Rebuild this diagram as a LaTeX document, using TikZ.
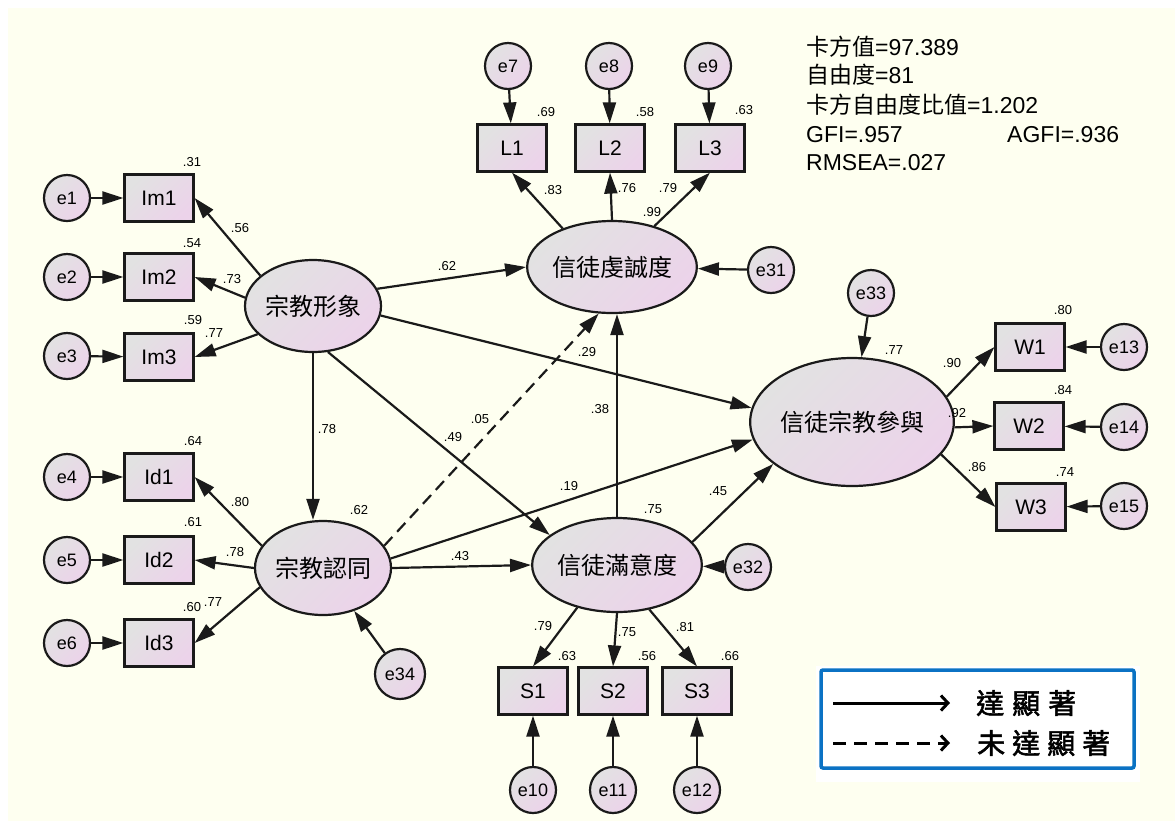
\documentclass[tikz,border=0pt]{standalone}
\usepackage{fontspec}
\setmainfont{Liberation Sans}
\newfontfamily\cjk[AutoFakeBold=2]{Noto Sans CJK TC}
\usetikzlibrary{arrows.meta,shapes.geometric}
\definecolor{paperc}{HTML}{FEFFF0}
\definecolor{shadel}{HTML}{E2E2E2}
\definecolor{shader}{HTML}{ECD3EA}
\definecolor{edgec}{HTML}{1A1A1A}
\definecolor{legendc}{HTML}{0B72C4}
\newcommand{\pxsize}[1]{\fontsize{#1}{#1}\selectfont}

\begin{document}
\begin{tikzpicture}[
  x=1pt, y=-1pt,
  shadefill/.style={top color=shadel, bottom color=shader, shading angle=45},
  obs/.style={draw=edgec, line width=2.2pt, shadefill, minimum width=69pt,
    minimum height=47pt, inner sep=0pt, font=\pxsize{21}},
  lat/.style={ellipse, draw=edgec, line width=2.2pt, shadefill, inner sep=0pt,
    font=\cjk\pxsize{24}},
  err/.style={circle, draw=edgec, line width=2.2pt, shadefill, minimum size=46pt,
    inner sep=0pt, font=\pxsize{18}},
  coef/.style={font=\pxsize{13}, inner sep=0pt},
  stat/.style={font=\pxsize{23}, inner sep=0pt, anchor=base west},
  arr/.style={-{Triangle[length=21pt,width=13pt]}, line width=2.2pt, draw=edgec},
  nsarr/.style={arr, dash pattern=on 12pt off 7pt},
  legarr/.style={-{Straight Barb[length=7pt,width=15pt,line width=3pt]}, line width=3pt},
  legtxt/.style={font=\cjk\bfseries\pxsize{28}, inner sep=0pt, anchor=west}
]
  % page
  \fill[white] (0,0) rectangle (1175,823);
  \fill[paperc] (8,8) rectangle (1175,821);
  \useasboundingbox (0,0) rectangle (1175,823);

  % latent variables
  \node[lat, minimum width=136pt, minimum height=92pt] (img)  at (313,306) {宗教形象};
  \node[lat, minimum width=136pt, minimum height=94pt] (iden) at (323,568) {宗教認同};
  \node[lat, minimum width=154pt, minimum height=92pt] (loy)  at (612,267) {信徒虔誠度};
  \node[lat, minimum width=140pt, minimum height=94pt] (sat)  at (617,565) {信徒滿意度};
  \node[lat, minimum width=170pt, minimum height=128pt] (part) at (852,422) {信徒宗教參與};

  % indicators
  \node[obs] (Im1) at (159,198) {Im1};
  \node[obs] (Im2) at (159,277) {Im2};
  \node[obs] (Im3) at (159,357) {Im3};
  \node[obs] (Id1) at (159,477) {Id1};
  \node[obs] (Id2) at (159,560) {Id2};
  \node[obs] (Id3) at (159,643) {Id3};
  \node[obs] (L1) at (512,148) {L1};
  \node[obs] (L2) at (610,148) {L2};
  \node[obs] (L3) at (710,148) {L3};
  \node[obs] (S1) at (533,691) {S1};
  \node[obs] (S2) at (613,691) {S2};
  \node[obs] (S3) at (697,691) {S3};
  \node[obs] (W1) at (1030,347) {W1};
  \node[obs] (W2) at (1029,426) {W2};
  \node[obs] (W3) at (1031,507) {W3};

  % error terms
  \node[err] (e1) at (67,198) {e1};
  \node[err] (e2) at (67,277) {e2};
  \node[err] (e3) at (67,356) {e3};
  \node[err] (e4) at (67,477) {e4};
  \node[err] (e5) at (67,560) {e5};
  \node[err] (e6) at (67,643) {e6};
  \node[err] (e7) at (508,66) {e7};
  \node[err] (e8) at (609,66) {e8};
  \node[err] (e9) at (708,66) {e9};
  \node[err] (e10) at (533,790) {e10};
  \node[err] (e11) at (613,790) {e11};
  \node[err] (e12) at (697,790) {e12};
  \node[err] (e13) at (1124,347) {e13};
  \node[err] (e14) at (1124,427) {e14};
  \node[err] (e15) at (1124,506) {e15};
  \node[err] (e31) at (771,270) {e31};
  \node[err] (e32) at (748,567) {e32};
  \node[err] (e33) at (871,293) {e33};
  \node[err, minimum size=50pt] (e34) at (400,674) {e34};

  % measurement paths
  \draw[arr] (e1) -- (Im1);
  \draw[arr] (e2) -- (Im2);
  \draw[arr] (e3) -- (Im3);
  \draw[arr] (e4) -- (Id1);
  \draw[arr] (e5) -- (Id2);
  \draw[arr] (e6) -- (Id3);
  \draw[arr] (e7) -- (L1);
  \draw[arr] (e8) -- (L2);
  \draw[arr] (e9) -- (L3);
  \draw[arr] (e10) -- (S1);
  \draw[arr] (e11) -- (S2);
  \draw[arr] (e12) -- (S3);
  \draw[arr] (e13) -- (W1);
  \draw[arr] (e14) -- (W2);
  \draw[arr] (e15) -- (W3);
  \draw[arr] (img.150) -- (Im1.east);
  \draw[arr] (img.173) -- (Im2.east);
  \draw[arr] (img.207) -- (Im3.east);
  \draw[arr] (iden.160) -- (Id1.east);
  \draw[arr] (iden.west) -- (Id2.east);
  \draw[arr] (iden.197) -- (Id3.east);
  \draw[arr] (loy.142) -- (L1.south);
  \draw[arr] (loy.north) -- (L2.south);
  \draw[arr] (loy.44) -- (L3.south);
  \draw[arr] (sat.227) -- (S1.north);
  \draw[arr] (sat.south) -- (S2.north);
  \draw[arr] (sat.-54) -- (S3.north);
  \draw[arr] (part.15) -- (W1.west);
  \draw[arr] (part.-3) -- (W2.west);
  \draw[arr] (part.-20) -- (W3.west);

  % structural paths
  \draw[arr] (img.south) -- (img.south |- iden.north);
  \draw[arr] (img.15) -- (loy.west);
  \draw[arr] (img.-8) -- (part.172);
  \draw[arr] (img.-72) -- (sat.156);
  \draw[nsarr] (iden.20) -- (loy.254);
  \draw[arr] (iden.8) -- (part.190);
  \draw[arr] (iden.east) -- (sat.west);
  \draw[arr] (sat.north) -- (sat.north |- loy.south);
  \draw[arr] (sat.17) -- (part.208);
  \draw[arr] (e31) -- (loy);
  \draw[arr] (e32) -- (sat);
  \draw[arr] (e33) -- (part);
  \draw[arr] (e34) -- (iden);

  % squared multiple correlations
  \node[coef] (rIm1) at (192,162) {.31};
  \node[coef] (rIm2) at (192,243) {.54};
  \node[coef] (rIm3) at (193,320) {.59};
  \node[coef] (rId1) at (193,441) {.64};
  \node[coef] (rId2) at (193,522) {.61};
  \node[coef] (rId3) at (192,607) {.60};
  \node[coef] (rL1) at (546,112) {.69};
  \node[coef] (rL2) at (645,112) {.58};
  \node[coef] (rL3) at (744,110) {.63};
  \node[coef] (rS1) at (567,656) {.63};
  \node[coef] (rS2) at (647,656) {.56};
  \node[coef] (rS3) at (730,656) {.66};
  \node[coef] (rW1) at (1063,310) {.80};
  \node[coef] (rW2) at (1063,390) {.84};
  \node[coef] (rW3) at (1065,472) {.74};
  \node[coef] (rloy) at (652,212) {.99};
  \node[coef] (riden) at (359,510) {.62};
  \node[coef] (rsat) at (653,509) {.75};
  \node[coef] (rpart) at (894,350) {.77};

  % loadings
  \node[coef] (pIm1) at (240,228) {.56};
  \node[coef] (pIm2) at (232,279) {.73};
  \node[coef] (pIm3) at (214,333) {.77};
  \node[coef] (pId1) at (240,502) {.80};
  \node[coef] (pId2) at (235,552) {.78};
  \node[coef] (pId3) at (213,602) {.77};
  \node[coef] (pL1) at (553,190) {.83};
  \node[coef] (pL2) at (627,188) {.76};
  \node[coef] (pL3) at (668,188) {.79};
  \node[coef] (pS1) at (543,626) {.79};
  \node[coef] (pS2) at (627,632) {.75};
  \node[coef] (pS3) at (685,627) {.81};
  \node[coef] (pW1) at (952,363) {.90};
  \node[coef] (pW2) at (957,413) {.92};
  \node[coef] (pW3) at (977,467) {.86};

  % path coefficients
  \node[coef] (bimgiden) at (327,429) {.78};
  \node[coef] (bimgloy) at (447,266) {.62};
  \node[coef] (bimgpart) at (587,352) {.29};
  \node[coef] (bimgsat) at (453,437) {.49};
  \node[coef] (bidenloy) at (480,419) {.05};
  \node[coef] (bidenpart) at (569,486) {.19};
  \node[coef] (bidensat) at (460,556) {.43};
  \node[coef] (bsatloy) at (600,409) {.38};
  \node[coef] (bsatpart) at (718,491) {.45};

  % fit indices
  \node[stat] (chi) at (806,55) {{\cjk 卡方值}=97.389};
  \node[stat] (df) at (806,83) {{\cjk 自由度}=81};
  \node[stat] (ratio) at (806,113) {{\cjk 卡方自由度比值}=1.202};
  \node[stat] (gfi) at (806,142) {GFI=.957};
  \node[stat] (agfi) at (1007,142) {AGFI=.936};
  \node[stat] (rmsea) at (806,170) {RMSEA=.027};

  % legend
  \fill[white] (816,666) rectangle (1140,782);
  \draw[legendc, line width=3.5pt, rounded corners=2pt] (821,670) rectangle (1134,768);
  \coordinate (sigA) at (833,703);
  \coordinate (sigB) at (950,703);
  \coordinate (nsA) at (833,743);
  \coordinate (nsB) at (950,743);
  \draw[legarr] (sigA) -- (sigB);
  \draw[legarr, dash pattern=on 13pt off 8pt] (nsA) -- (nsB);
  \node[legtxt] (sig) at (976,703) {達\kern8pt 顯\kern8pt 著};
  \node[legtxt] (ns) at (977,743) {未\kern7pt 達\kern7pt 顯\kern7pt 著};
\end{tikzpicture}
\end{document}
